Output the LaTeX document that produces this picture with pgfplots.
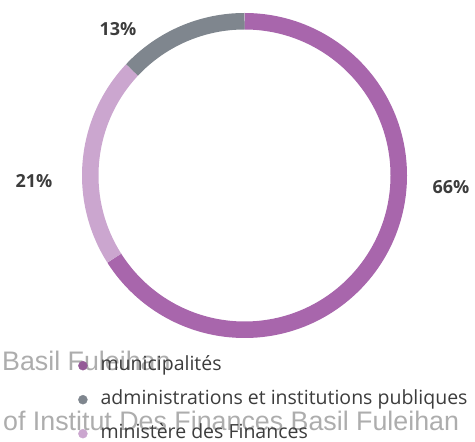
\documentclass[border=0pt]{standalone}
\usepackage{pgfplots}
\pgfplotsset{compat=1.18}
\usepackage{pgfplotstable}
\usepackage{fontspec}
\setmainfont{Open Sans}
\newfontfamily\wmfont{Liberation Sans}

\definecolor{munic}{HTML}{A866AC}
\definecolor{admin}{HTML}{7F868E}
\definecolor{minis}{HTML}{CBA6CF}
\definecolor{txt}{HTML}{3C3C3C}
\definecolor{wm}{HTML}{ADADAD}

% shares in clockwise order from the top
\pgfplotstableread{
part value
municipalites 66
ministere 21
administrations 13
}\shares

\begin{document}
\begin{tikzpicture}
\pgfplotstablegetelem{0}{value}\of\shares \pgfmathsetmacro\va{\pgfplotsretval}
\pgfplotstablegetelem{1}{value}\of\shares \pgfmathsetmacro\vb{\pgfplotsretval}
\pgfplotstablegetelem{2}{value}\of\shares \pgfmathsetmacro\vc{\pgfplotsretval}
\pgfmathsetmacro\aA{90}
\pgfmathsetmacro\aB{\aA-3.6*\va}
\pgfmathsetmacro\aC{\aB-3.6*\vb}
\pgfmathsetmacro\aD{\aC-3.6*\vc}
\begin{axis}[
    width=475bp, height=442bp,
    scale only axis,
    xmin=0, xmax=475, ymin=0, ymax=442,
    hide axis,
    clip=false,
    legend style={
        at={(axis cs:78,86)}, anchor=north west,
        draw=none, fill=none, inner sep=0pt,
        font=\fontsize{19.5bp}{22bp}\selectfont\color{txt},
        nodes={inner sep=0pt, text height=14bp, text depth=5bp},
        row sep=15bp,
        cells={anchor=west},
        /tikz/every odd column/.append style={column sep=13bp},
    },
    legend image code/.code={\fill (0.1cm,0cm) circle (4.5bp);},
]
% watermark
\node[anchor=base west, inner sep=0pt, font=\wmfont\fontsize{26.8bp}{30bp}\selectfont, text=wm]
    at (axis cs:2,71) {Basil Fuleihan};
\node[anchor=base west, inner sep=0pt, font=\wmfont\fontsize{26.8bp}{30bp}\selectfont, text=wm]
    at (axis cs:3,12) {of Institut Des Finances Basil Fuleihan};

% ring
\draw[munic, line width=16.5bp] (axis cs:244.5,266.5) ++(\aA:154.25bp)
    arc[start angle=\aA, end angle=\aB, radius=154.25bp];
\draw[minis, line width=16.5bp] (axis cs:244.5,266.5) ++(\aB:154.25bp)
    arc[start angle=\aB, end angle=\aC, radius=154.25bp];
\draw[admin, line width=16.5bp] (axis cs:244.5,266.5) ++(\aC:154.25bp)
    arc[start angle=\aC, end angle=\aD, radius=154.25bp];

% labels
\node[font=\bfseries\fontsize{18bp}{20bp}\selectfont, text=txt] at (axis cs:118,413) {13\%};
\node[font=\bfseries\fontsize{18bp}{20bp}\selectfont, text=txt] at (axis cs:451,255) {66\%};
\node[font=\bfseries\fontsize{18bp}{20bp}\selectfont, text=txt] at (axis cs:34,261) {21\%};

\addlegendimage{munic!88!black}
\addlegendentry{municipalités}
\addlegendimage{admin}
\addlegendentry{administrations et institutions publiques}
\addlegendimage{minis}
\addlegendentry{ministère des Finances}
\end{axis}
\pgfresetboundingbox
\path[use as bounding box] (current axis.south west) rectangle (current axis.north east);
\end{tikzpicture}
\end{document}
